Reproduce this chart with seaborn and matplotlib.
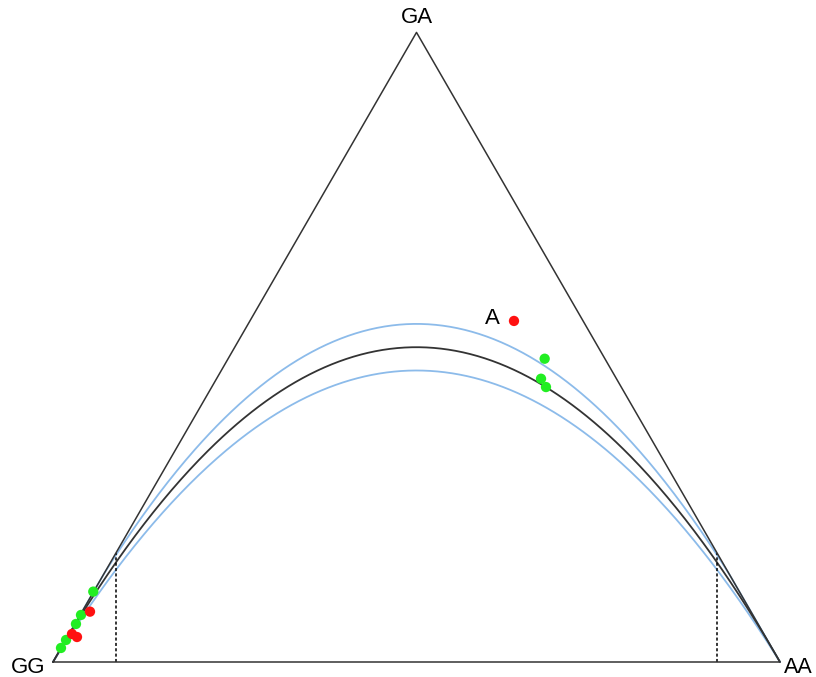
import numpy as np
import pandas as pd
import matplotlib
matplotlib.use("Agg")
import matplotlib.pyplot as plt
import seaborn as sns

# allele frequency of A (p) and heterozygote frequency (GA) for each sample
green_p = [0.0554, 0.0385, 0.0316, 0.0179, 0.0110, 0.6763, 0.6713, 0.6781]
green_het = [0.1118, 0.0747, 0.0604, 0.0350, 0.0223, 0.4817, 0.4499, 0.4367]
red_p = [0.0509, 0.0261, 0.0330, 0.6341]
red_het = [0.0800, 0.0445, 0.0397, 0.5417]
red_labels = ["", "", "", "A"]

vertex_labels = ["GG", "AA", "GA"]
band = 0.074        # half width of acceptance band (relative)
maf_bound = 0.0867  # dashed lines

H = np.sqrt(3) / 2

sns.set_style("white")
plt.rcParams["font.family"] = ["Liberation Sans", "DejaVu Sans"]

fig = plt.figure(figsize=(8.16, 6.77), dpi=100)
ax = fig.add_axes([0, 0, 1, 1])

# triangle
tri = pd.DataFrame({"x": [0, 1, 0.5, 0], "y": [0, 0, H, 0]})
ax.plot(tri["x"], tri["y"], color="#333333", lw=1.1, zorder=3)

# Hardy-Weinberg curve and acceptance limits
p = np.linspace(0, 1, 400)
hw = 2 * p * (1 - p)
edge = np.minimum(2 * p, 2 * (1 - p))
curves = pd.DataFrame({
    "p": np.concatenate([p, p, p]),
    "y": np.concatenate([np.minimum(hw * (1 + band), edge), hw * (1 - band), hw]) * H,
    "kind": ["upper"] * len(p) + ["lower"] * len(p) + ["hwe"] * len(p),
})
sns.lineplot(data=curves, x="p", y="y", hue="kind", units="kind", estimator=None,
             sort=False, palette={"upper": "#8cbbea", "lower": "#8cbbea", "hwe": "#333333"},
             lw=1.3, legend=False, ax=ax, zorder=2)

# dashed maf bounds
for b in [maf_bound, 1 - maf_bound]:
    ax.plot([b, b], [0, min(b, 1 - b) * 2 * H], color="black", lw=1.1, ls=(0, (2, 1.5)), zorder=2)

pts = pd.DataFrame({
    "x": green_p + red_p,
    "y": [h * H for h in green_het + red_het],
    "col": ["g"] * len(green_p) + ["r"] * len(red_p),
})
sns.scatterplot(data=pts, x="x", y="y", hue="col", palette={"g": "#22ee22", "r": "#ff1111"},
                s=55, edgecolor="none", legend=False, ax=ax, zorder=4)

for px, ph, lab in zip(red_p, red_het, red_labels):
    if lab:
        ax.text(px - 0.02, ph * H + 0.004, lab, fontsize=16, color="black", ha="right", va="center")

ax.text(-0.011, -0.008, vertex_labels[0], fontsize=16, color="black", ha="right", va="center")
ax.text(1.006, -0.008, vertex_labels[1], fontsize=15.5, color="black", ha="left", va="center")
ax.text(0.5, H + 0.02, vertex_labels[2], fontsize=16, color="black", ha="center", va="center")

ax.set_xlim(-53 / 727, (816 - 53) / 727)
ax.set_ylim(-15 / 727, 662 / 727)
ax.axis("off")

fig.savefig("out.png", dpi=100)
